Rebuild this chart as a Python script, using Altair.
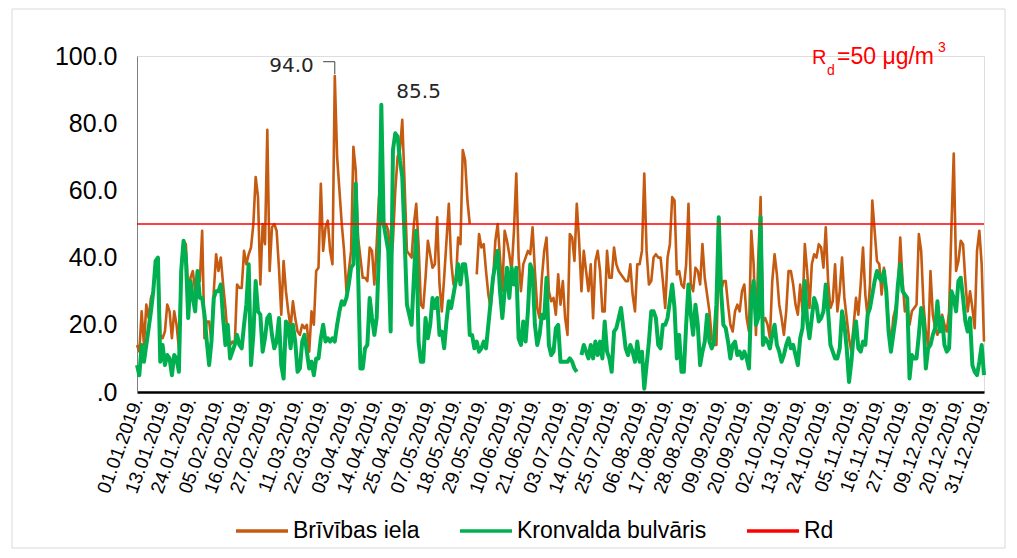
import json
import altair as alt
import pandas as pd

# ---------------- data ----------------
tick_labels = [
    "01.01.2019.", "13.01.2019.", "24.01.2019.", "05.02.2019.", "16.02.2019.",
    "27.02.2019.", "11.03.2019.", "22.03.2019.", "03.04.2019.", "14.04.2019.",
    "25.04.2019.", "07.05.2019.", "18.05.2019.", "29.05.2019.", "10.06.2019.",
    "21.06.2019.", "03.07.2019.", "14.07.2019.", "25.07.2019.", "06.08.2019.",
    "17.08.2019.", "28.08.2019.", "09.09.2019.", "20.09.2019.", "02.10.2019.",
    "13.10.2019.", "24.10.2019.", "05.11.2019.", "16.11.2019.", "27.11.2019.",
    "09.12.2019.", "20.12.2019.", "31.12.2019.",
]

brivibas = [
    14, 12, 24, 14, 26, 22, 28, 30, 38, 40,
    17, 16, 18, 26, 24, 16, 24, 20, 13, 37,
    45, 44, 30, 34, 36, 30, 36, 33, 48, 16,
    21, 21, 15, 30, 41, 36, 40, 32, 25, 16,
    14, 15,
    14, 32, 31, 31, 42, 38, 41, 43, 50, 64,
    58, 32, 50, 44, 78, 36, 49, 50, 48, 37,
    23, 39, 30, 24, 19, 27, 22, 18, 17, 20,
    19, 20, 12, 24, 20, 36, 37, 62, 42, 49,
    51, 42, 38, 94, 70, 60, 50, 42, 30, 36,
    42, 73, 66, 46, 40, 34, 34, 33, 43, 42,
    32, 44, 58, 50, 50, 50, 48, 37, 45, 60,
    70, 72, 81, 62, 42, 41,
    40, 50, 56, 44, 26, 25, 34, 45, 41, 37,
    38, 52, 32, 24, 34, 45, 56, 39, 32, 32,
    46, 44, 72, 69, 57, 50, None, None, 35, 47,
    43, 44, 36, 29, 25, 33, 45, 50, 40, 30,
    48, 45, 41, 36, 48, 65, 40, 30, 38, 40,
    42, 41, 49, 36, 25, 22, 34, 42, 46, 30,
    27, 28, 23, 35, 26, 33, 22, 17, 47, 46,
    39, 56, 45, 30, 42, 36,
    30, 38, 22, 39, 42, 36, 24, 24, 42, 34,
    34, 43, 38, 36, 35, 34, 33, 33, 38, 29,
    24, 38, 38, 42, 65, 42, 32, 33, 40, 41,
    40, 40, 33, 25, 40, 44, 58, 57, 35, 36,
    32, 31, 38, 56, 32, 30, 37, 36, 32, 44,
    34, 29, 24, 16, 14, 14, 40, 30, 33, 33,
    26, 20, 18, 24, 26, 24, 30, 32, 22, 18,
    48, 38, 17, 40, 58, 21,
    22, 20, 16, 33, 41, 35, 26, 22, 17, 24,
    36, 36, 32, 26, 23, 32, 24, 44, 36, 25,
    38, 41, 40, 44, 43, 37, 49, 33, 25, 27,
    38, 24, 30, 40, 28, 22, 16, 12, 20, 28,
    23, 32, 43, 29, 22, 32, 57, 48, 39, 38,
    29, 37, 30, 20, 14, 22, 25, 30, 46, 33,
    24, 26, 20, 24, 25, 26, 47, 42, 26, 18,
    14, 36, 23, 19, 17, 20,
    23, 20, 18, 24, 49, 71, 36, 39, 45, 44,
    33, 24, 30, 25, 19, 42, 48, 38, 15,
]

kronvalda = [
    8, 5, 14, 9, 14, 19, 24, 30, 39, 40,
    9, 14, 8, 11, 10, 5, 11, 10, 6, 36,
    45, 40, 22, 33, 28, 24, 36, 28, 28, 23,
    15, 8, 15, 28, 30, 30, 32, 22, 14, 20,
    10, 12,
    14, 17, 14, 13, 20, 26, 38, 8, 17, 33,
    24, 23, 12, 16, 22, 23, 17, 13, 15, 22,
    8, 4, 21, 20, 13, 20, 15, 6, 7, 15,
    17, 12, 7, 9, 5, 10, 10, 16, 20, 15,
    16, 15, 16, 15, 20, 24, 27, 26, 28, 32,
    37, 38, 62, 36, 7, 7, 13, 14, 28, 22,
    17, 22, 42, 85.5, 50, 46, 42, 18, 72, 77,
    76, 69, 64, 46, 26, 23,
    20, 34, 48, 15, 9, 9, 22, 16, 20, 28,
    25, 28, 17, 18, 13, 21, 27, 25, 29, 33,
    38, 32, 38, 38, 32, 17, 17, 13, 15, 12,
    13, 15, 13, 20, 27, 34, 38, 42, 30, 22,
    30, 37, 28, 37, 32, 37, 16, 14, 21, 15,
    24, 38, 36, 20, 14, 17, 23, 22, 34, 14,
    11, 12, 19, 20, 9, 9, 9, 9, 10, 9,
    7, 6, None, 11, 14, 12,
    10, 14, 10, 15, 11, 15, 10, 21, 12, 10,
    6, 18, 19, 22, 25, 19, 13, 11, 14, 12,
    9, 15, 9, 12, 1, 8, 15, 24, 24, 22,
    14, 13, 20, 20, 22, 27, 32, 25, 10, 17,
    6, 6, 20, 32, 23, 17, 26, 20, 8, 12,
    15, 23, 15, 13, 15, 26, 52, 30, 20, 19,
    15, 10, 14, 15, 11, 12, 10, 12, 10, 7,
    28, 33, 20, 22, 52, 14,
    16, 15, 13, 17, 20, 14, 12, 9, 11, 14,
    16, 13, 14, 11, 8, 16, 19, 33, 21, 16,
    22, 28, 26, 21, 22, 24, 32, 24, 14, 12,
    10, 10, 13, 24, 20, 13, 3, 9, 17, 21,
    13, 12, 15, 14, 23, 25, 29, 33, 36, 34,
    33, 36, 30, 18, 12, 17, 22, 32, 38, 30,
    29, 28, 4, 11, 10, 10, 17, 25, 22, 7,
    13, 14, 17, 19, 27, 18,
    22, 14, 12, 13, 30, 28, 24, 33, 34, 28,
    21, 18, 22, 8, 6, 5, 9, 14, 5,
]

RD = 50.0
series_names = ["Brīvības iela", "Kronvalda bulvāris", "Rd"]
series_colors = ["#C55A11", "#00B050", "#FF0000"]
series_widths = [2.6, 4.0, 1.5]

y_ticks = [0, 20, 40, 60, 80, 100]
leader_day_offsets = [-5, 0, 0]
leader_values = [98.3, 98.3, 94.6]

# ---------------- build tables ----------------
start = pd.Timestamp("2019-01-01")
n = len(brivibas)
days = list(range(n))
tick_days = [(pd.to_datetime(s[:-1], format="%d.%m.%Y") - start).days for s in tick_labels]

b_ser = pd.to_numeric(pd.Series(brivibas, dtype="object"), errors="coerce")
k_ser = pd.to_numeric(pd.Series(kronvalda, dtype="object"), errors="coerce")

df = pd.concat([
    pd.DataFrame({"day": days, "value": b_ser, "series": series_names[0]}),
    pd.DataFrame({"day": days, "value": k_ser, "series": series_names[1]}),
    pd.DataFrame({"day": days, "value": [RD] * n, "series": series_names[2]}),
], ignore_index=True)

peak_o = int(b_ser.idxmax())
peak_g = int(k_ser.idxmax())

label_expr = (
    f"{json.dumps(tick_labels, ensure_ascii=False)}"
    f"[indexof({json.dumps(tick_days)}, datum.value)]"
)

x_scale = alt.Scale(domain=[0, n - 1], nice=False, zero=False)
y_scale = alt.Scale(domain=[0, 100], nice=False)

x_axis = alt.Axis(
    values=tick_days, labelExpr=label_expr, labelAngle=290,
    labelFontSize=19, labelColor="#000000", labelPadding=6,
    ticks=False, grid=False, domainColor="#000000", domainWidth=2.5,
    labelOverlap=False, labelBound=False, labelFlush=False,
)
y_axis = alt.Axis(
    values=y_ticks,
    labelExpr="datum.value == 0 ? '.0' : format(datum.value, '.1f')",
    labelFontSize=25, labelColor="#000000", labelPadding=20,
    ticks=False, grid=False, domainColor="#7F7F7F", domainWidth=1,
    labelOverlap=False,
)

def xq():
    return alt.X("day:Q", scale=x_scale, axis=x_axis, title=None)

def yq():
    return alt.Y("value:Q", scale=y_scale, axis=y_axis, title=None)

legend = alt.Legend(
    orient="none", legendX=97, legendY=447, direction="horizontal",
    symbolType="stroke", symbolSize=2704, symbolStrokeWidth=3.5,
    labelFontSize=23, labelColor="#000000", labelOffset=3,
    labelLimit=400, columnPadding=33, title=None,
)
color_enc = alt.Color(
    "series:N", scale=alt.Scale(domain=series_names, range=series_colors), legend=legend
)

series_layers = [
    alt.Chart(df).transform_filter(alt.datum.series == name)
    .mark_line(strokeJoin="round", strokeWidth=w)
    .encode(x=xq(), y=yq(), color=color_enc)
    for name, w in zip(series_names, series_widths)
]

ann_o = alt.Chart(pd.DataFrame({"day": [peak_o], "value": [float(b_ser.max())],
                                "label": [f"{b_ser.max():.1f}"]})).mark_text(
    align="right", baseline="alphabetic", dx=-21, dy=-4,
    font="DejaVu Sans", fontSize=20, color="#262626",
).encode(x=xq(), y=yq(), text="label:N")

ann_g = alt.Chart(pd.DataFrame({"day": [peak_g], "value": [float(k_ser.max())],
                                "label": [f"{k_ser.max():.1f}"]})).mark_text(
    align="left", baseline="alphabetic", dx=15, dy=-7,
    font="DejaVu Sans", fontSize=20, color="#262626",
).encode(x=xq(), y=yq(), text="label:N")

leader = alt.Chart(pd.DataFrame({
    "day": [peak_o + d for d in leader_day_offsets],
    "value": leader_values,
    "o": [0, 1, 2],
})).mark_line(color="#404040", strokeWidth=1).encode(
    x=xq(), y=yq(), order="o:Q"
)

def rd_piece(txt, px, py, size):
    return alt.Chart(pd.DataFrame({"t": [txt]})).mark_text(
        align="left", baseline="alphabetic", fontSize=size, color="#FF0000",
        font="Liberation Sans",
    ).encode(x=alt.value(px), y=alt.value(py), text="t:N")

rd_label = (
    rd_piece("R", 675, 8, 20)
    + rd_piece("d", 690, 19, 14)
    + rd_piece(f"={RD:.0f} μg/m", 700, 8, 23)
    + rd_piece("3", 801, -4, 14)
)

frame = alt.Chart(pd.DataFrame({"a": [0]})).mark_rect(
    fill=None, stroke="#D9D9D9", strokeWidth=1
).encode(
    x=alt.value(-125), x2=alt.value(868), y=alt.value(-47), y2=alt.value(492)
)

chart = alt.layer(frame, *series_layers, leader, ann_o, ann_g, rd_label).properties(
    width=847, height=336,
    autosize=alt.AutoSizeParams(type="none"),
    padding={"left": 129, "top": 48, "right": 25, "bottom": 158},
).configure_view(stroke=None).configure_axis(labelOverlap=False).configure(font="Liberation Sans")

chart.save("out.html", embed_options={"renderer": "svg", "actions": False})
